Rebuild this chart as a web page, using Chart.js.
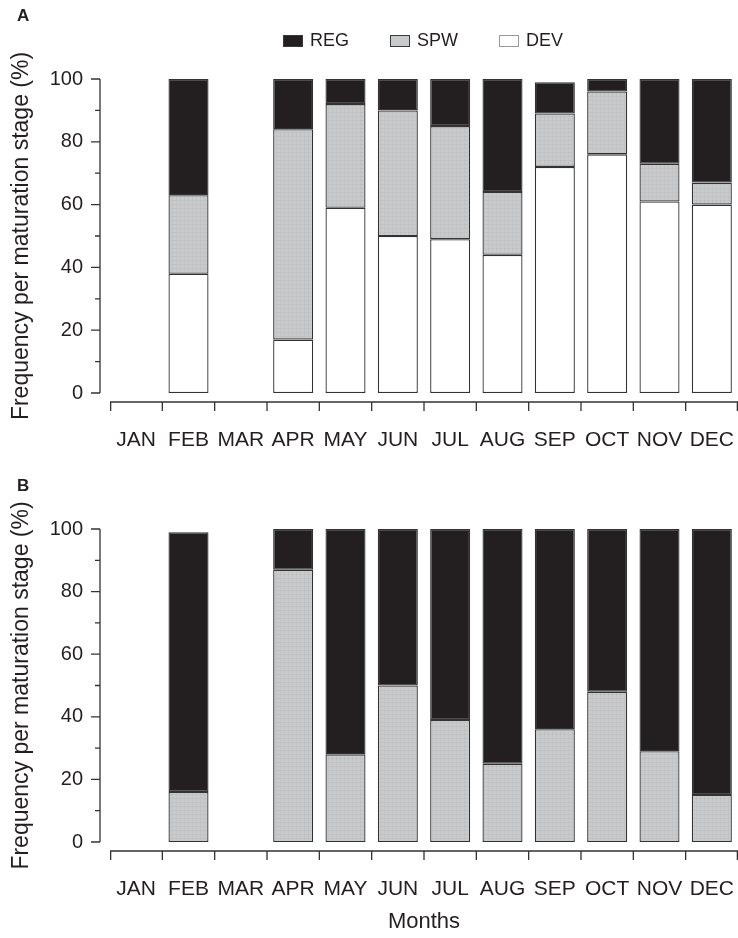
<!DOCTYPE html>
<html><head><meta charset="utf-8">
<script src="https://cdn.jsdelivr.net/npm/chart.js@4.4.1/dist/chart.umd.min.js"></script>
<style>
html,body{margin:0;padding:0;background:#fff;}
#wrap{position:relative;width:738px;height:938px;font-family:"Liberation Sans",Arial,sans-serif;color:#231f20;overflow:hidden;}
.panel{position:absolute;left:0;width:738px;}
canvas{display:block;}
.plabel{position:absolute;left:17px;font-weight:bold;font-size:17px;line-height:17px;}
#legend{position:absolute;left:283px;top:30px;display:flex;gap:41px;font-size:18px;}
.li{display:flex;align-items:center;}
.box{width:20px;height:12px;margin-right:7px;box-sizing:border-box;border:1px solid #3a3a3a;}
</style></head>
<body><div id="wrap">
<div class="panel" style="top:0;height:450px"><canvas id="cA" width="738" height="450"></canvas></div>
<div class="panel" style="top:450px;height:488px"><canvas id="cB" width="738" height="488"></canvas></div>
<div class="plabel" style="top:7px">A</div>
<div class="plabel" style="top:477px">B</div>
<div id="legend"></div>
</div>
<script>
// ---- data ----
const months = ['JAN','FEB','MAR','APR','MAY','JUN','JUL','AUG','SEP','OCT','NOV','DEC'];
const seriesNames = ['DEV','SPW','REG'];
// Panel A (% per maturation stage)
const devA = [null, 38, null, 17, 59, 50, 49, 44, 72, 76, 61, 60];
const spwA = [null, 25, null, 67, 33, 40, 36, 20, 17, 20, 12, 7];
const regA = [null, 37, null, 16, 8, 10, 15, 36, 10, 4, 27, 33];
// Panel B
const spwB = [null, 16, null, 87, 28, 50, 39, 25, 36, 48, 29, 15];
const regB = [null, 83, null, 13, 72, 50, 61, 75, 64, 52, 71, 85];
const yTickValues = [0, 20, 40, 60, 80, 100];

// ---- styles ----
const TEXT = '#231f20';
const EDGE = '#333333';
const REG_COLOR = '#231f20';
const DEV_COLOR = '#ffffff';
function spwPattern() {
  const c = document.createElement('canvas');
  c.width = 4; c.height = 4;
  const g = c.getContext('2d');
  g.fillStyle = '#c9cacc'; g.fillRect(0, 0, 4, 4);
  g.fillStyle = '#c1c2c4'; g.fillRect(0, 0, 4, 1); g.fillRect(0, 0, 1, 4);
  return g.createPattern(c, 'repeat');
}
const SPW_FILL = spwPattern();
const FAMILY = '"Liberation Sans", Arial, sans-serif';

function ds(label, data, bg) {
  return { label, data, backgroundColor: bg, borderColor: EDGE, borderWidth: 1.3,
           borderSkipped: false, barPercentage: 0.765, categoryPercentage: 1.0 };
}

const detachedAxes = {
  id: 'detachedAxes',
  afterDraw(chart) {
    const { ctx, chartArea, scales: { x, y } } = chart;
    ctx.save();
    ctx.strokeStyle = EDGE;
    ctx.lineWidth = 1.3;
    const ax = chartArea.left - 10;
    const y0 = y.getPixelForValue(0), y100 = y.getPixelForValue(100);
    ctx.beginPath();
    ctx.moveTo(ax, y0); ctx.lineTo(ax, y100);
    for (let v = 0; v <= 100; v += 10) {
      const py = y.getPixelForValue(v);
      ctx.moveTo(ax, py); ctx.lineTo(ax - (v % 20 === 0 ? 9 : 5), py);
    }
    const xy = y0 + 9;
    ctx.moveTo(chartArea.left, xy); ctx.lineTo(chartArea.right, xy);
    const w = x.getPixelForValue(1) - x.getPixelForValue(0);
    const n = months.length;
    for (let i = 0; i <= n; i++) {
      let px = x.getPixelForValue(0) - w / 2 + i * w;
      px = Math.min(Math.max(px, chartArea.left + 0.65), chartArea.right - 0.65);
      ctx.moveTo(px, xy); ctx.lineTo(px, xy + 9);
    }
    ctx.stroke();
    ctx.restore();
  }
};

function makeChart(id, datasets, xHeight, showXTitle) {
  return new Chart(document.getElementById(id), {
    type: 'bar',
    data: { labels: months, datasets },
    options: {
      responsive: false, animation: false, devicePixelRatio: 1,
      layout: { padding: { top: 79, left: 0, right: 0, bottom: 0 } },
      plugins: { legend: { display: false }, tooltip: { enabled: false } },
      scales: {
        x: {
          stacked: true, offset: true,
          grid: { display: false, drawTicks: true, tickLength: 35 },
          border: { display: false },
          ticks: { padding: 0, color: TEXT, font: { family: FAMILY, size: 21 }, maxRotation: 0, autoSkip: false },
          title: { display: showXTitle, text: 'Months', color: TEXT, font: { family: FAMILY, size: 22 }, padding: { top: 0, bottom: 3 } },
          afterFit(s) { s.height = xHeight; s.paddingLeft = 0; s.paddingRight = 0; }
        },
        y: {
          stacked: true, min: 0, max: 100,
          grid: { display: false, drawTicks: false },
          border: { display: false },
          afterBuildTicks(s) { s.ticks = yTickValues.map(v => ({ value: v })); },
          ticks: { padding: 27, color: TEXT, font: { family: FAMILY, size: 20 } },
          title: { display: true, text: 'Frequency per maturation stage (%)', color: TEXT,
                   font: { family: FAMILY, size: 23 }, padding: { top: 8, bottom: 0 } },
          afterFit(s) { s.width = 110; }
        }
      }
    },
    plugins: [detachedAxes]
  });
}

const chartA = makeChart('cA', [
  ds(seriesNames[0], devA, DEV_COLOR),
  ds(seriesNames[1], spwA, SPW_FILL),
  ds(seriesNames[2], regA, REG_COLOR)
], 57, false);

const chartB = makeChart('cB', [
  ds(seriesNames[1], spwB, SPW_FILL),
  ds(seriesNames[2], regB, REG_COLOR)
], 96, true);

// legend (top of panel A), built from chart A datasets, in reverse stacking order
const legendEl = document.getElementById('legend');
chartA.data.datasets.slice().reverse().forEach(d => {
  const item = document.createElement('div'); item.className = 'li';
  const box = document.createElement('span'); box.className = 'box';
  box.style.background = d.label === 'SPW' ? '#c9cacc' : d.backgroundColor;
  if (d.label === 'DEV') box.style.borderColor = '#9a9a9a';
  const txt = document.createElement('span'); txt.textContent = d.label;
  item.appendChild(box); item.appendChild(txt);
  legendEl.appendChild(item);
});
</script>
</body></html>
